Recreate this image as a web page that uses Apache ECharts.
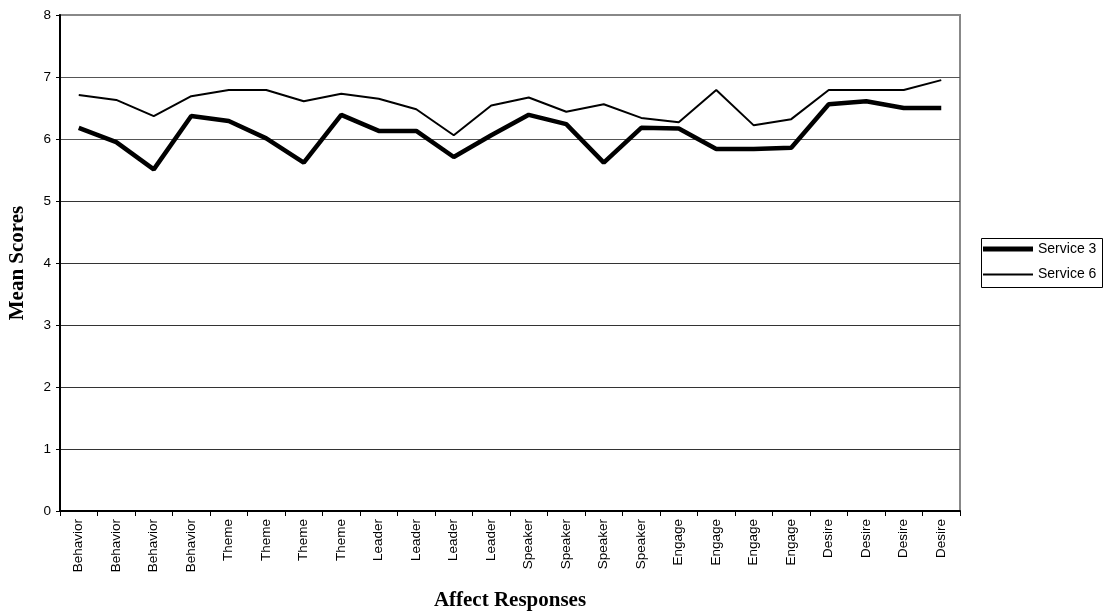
<!DOCTYPE html>
<html>
<head>
<meta charset="utf-8">
<script src="https://cdn.jsdelivr.net/npm/echarts@6/dist/echarts.min.js"></script>
<style>html,body{margin:0;padding:0;background:#fff}#c{width:1112px;height:615px}</style>
</head>
<body>
<div id="c"></div>
<script>
const categories = ['Behavior','Behavior','Behavior','Behavior','Theme','Theme','Theme','Theme','Leader','Leader','Leader','Leader','Speaker','Speaker','Speaker','Speaker','Engage','Engage','Engage','Engage','Desire','Desire','Desire','Desire'];
const service3 = [6.18,5.95,5.51,6.37,6.29,6.01,5.62,6.39,6.13,6.13,5.71,6.06,6.39,6.24,5.62,6.18,6.17,5.84,5.84,5.86,6.56,6.61,6.50,6.50];
const service6 = [6.71,6.63,6.37,6.69,6.79,6.79,6.61,6.73,6.65,6.48,6.06,6.54,6.67,6.44,6.56,6.34,6.27,6.79,6.22,6.32,6.79,6.79,6.79,6.95];
const yTicks = [0,1,2,3,4,5,6,7,8];

const legendText = { fontFamily: 'Liberation Sans, Arial', fontSize: 14, color: '#000' };
const chart = echarts.init(document.getElementById('c'));
chart.setOption({
  animation: false,
  backgroundColor: '#fff',
  grid: { left: 60, right: 152, top: 15, bottom: 104, outerBoundsMode: 'none', containLabel: false,
          show: true, borderColor: '#888', borderWidth: 2, backgroundColor: 'transparent' },
  legend: [
    { orient: 'vertical', left: 983, top: 242, itemWidth: 50, itemHeight: 5, icon: 'rect', itemGap: 0,
      padding: 0, textStyle: legendText, data: ['Service 3'] },
    { orient: 'vertical', left: 983, top: 267.5, itemWidth: 50, itemHeight: 2, icon: 'rect', itemGap: 0,
      padding: 0, textStyle: legendText, data: ['Service 6'] }
  ],
  graphic: [
    { type: 'rect', silent: true, shape: { x: 981.5, y: 238.5, width: 121, height: 49 },
      style: { fill: 'none', stroke: '#000', lineWidth: 1 } }
  ],
  xAxis: {
    type: 'category', data: categories, boundaryGap: true,
    name: 'Affect Responses', nameLocation: 'middle', nameGap: 79,
    nameTextStyle: { fontFamily: 'Liberation Serif, Times New Roman', fontWeight: 'bold', fontSize: 21, color: '#000' },
    axisLine: { lineStyle: { color: '#000', width: 2 } },
    axisTick: { show: true, length: 5, lineStyle: { color: '#000' }, alignWithLabel: false },
    axisLabel: { rotate: 90, interval: 0, fontFamily: 'Liberation Sans, Arial', fontSize: 13.5, color: '#000', margin: 8 }
  },
  yAxis: {
    type: 'value', min: 0, max: 8, interval: 1,
    name: 'Mean Scores', nameLocation: 'middle', nameGap: 32, nameRotate: 90,
    nameTextStyle: { fontFamily: 'Liberation Serif, Times New Roman', fontWeight: 'bold', fontSize: 21, color: '#000' },
    axisLine: { show: true, lineStyle: { color: '#000', width: 2 } },
    axisTick: { show: true, length: 4, lineStyle: { color: '#000' } },
    axisLabel: { fontFamily: 'Liberation Sans, Arial', fontSize: 13.5, color: '#000', margin: 9,
      formatter: v => yTicks.includes(v) ? String(v) : '' },
    splitLine: { show: true, lineStyle: { color: ['#333','#333','#333','#333','#333','#333','#555','#555','#888'], width: 1 } }
  },
  series: [
    { name: 'Service 3', type: 'line', data: service3, symbol: 'none', lineStyle: { color: '#000', width: 4.5 }, itemStyle: { color: '#000' } },
    { name: 'Service 6', type: 'line', data: service6, symbol: 'none', lineStyle: { color: '#000', width: 2 }, itemStyle: { color: '#000' } }
  ]
});
</script>
</body>
</html>
